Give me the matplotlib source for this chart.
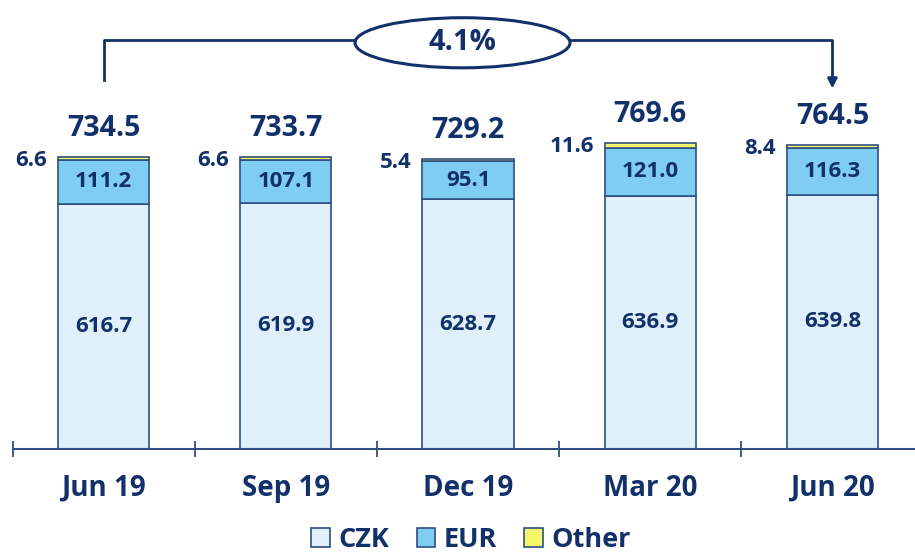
import matplotlib
matplotlib.use("Agg")
import matplotlib.pyplot as plt
from matplotlib.patches import Patch, Ellipse
import numpy as np

categories = ["Jun 19", "Sep 19", "Dec 19", "Mar 20", "Jun 20"]
czk = [616.7, 619.9, 628.7, 636.9, 639.8]
eur = [111.2, 107.1, 95.1, 121.0, 116.3]
other = [6.6, 6.6, 5.4, 11.6, 8.4]
totals = [734.5, 733.7, 729.2, 769.6, 764.5]
growth_label = "4.1%"

navy = "#12306a"
edge = "#2d4f80"
c_czk = "#dff0fb"
c_eur = "#7fcdf2"
c_oth = "#f7f56b"

plt.rcParams['font.family'] = ['Open Sans', 'DejaVu Sans']

fig = plt.figure(figsize=(9.15, 5.57), dpi=100)
ax = fig.add_axes([12.5/915, 108/557, 911/915, 449/557])

x = np.arange(len(categories))
w = 0.5
ax.bar(x, czk, w, color=c_czk, edgecolor=edge, linewidth=1.2)
ax.bar(x, eur, w, bottom=czk, color=c_eur, edgecolor=edge, linewidth=1.2)
bot2 = [a + b for a, b in zip(czk, eur)]
ax.bar(x, other, w, bottom=bot2, color=c_oth, edgecolor=edge, linewidth=1.2)

for i in range(len(x)):
    ax.text(x[i], czk[i] / 2, f"{czk[i]:.1f}", ha='center', va='center',
            fontsize=16, fontweight='bold', color=navy)
    ax.text(x[i], czk[i] + eur[i] / 2, f"{eur[i]:.1f}", ha='center', va='center',
            fontsize=16, fontweight='bold', color=navy)
    ax.text(x[i] - w / 2 - 0.06, totals[i] - 8, f"{other[i]:.1f}", ha='right', va='center',
            fontsize=16, fontweight='bold', color=navy)
    ax.text(x[i], totals[i] + 73, f"{totals[i]:.1f}", ha='center', va='center',
            fontsize=20.5, fontweight='bold', color=navy)

ax.set_xlim(-0.5, 4.5)
ax.set_ylim(0, 1129.6)
for s in ['left', 'right', 'top']:
    ax.spines[s].set_visible(False)
ax.spines['bottom'].set_color(edge)
ax.spines['bottom'].set_linewidth(1.5)
ax.set_yticks([])
ax.set_xticks(x)
ax.set_xticklabels(categories, fontsize=20, fontweight='bold', color=navy)
ax.tick_params(axis='x', which='major', length=0, pad=18)
ax.set_xticks(np.arange(-0.5, 5.0, 1.0), minor=True)
ax.tick_params(axis='x', which='minor', direction='inout', length=12, width=1.3, color=edge)

# growth annotation
y_line = 1029
ex, ey = 1.97, 1022
ew, eh = 1.18, 126
ax.plot([0, 0, ex - ew / 2], [928, y_line, y_line], color=navy, lw=2, clip_on=False)
ax.plot([ex + ew / 2, 4, 4], [y_line, y_line, 925], color=navy, lw=2, clip_on=False)
ax.annotate("", xy=(4, 900), xytext=(4, 935),
            arrowprops=dict(arrowstyle='-|>', color=navy, lw=2, mutation_scale=14))
ax.add_patch(Ellipse((ex, ey), ew, eh, facecolor='white', edgecolor=navy, lw=2.2, clip_on=False))
ax.text(ex, ey, growth_label, ha='center', va='center', fontsize=21, fontweight='bold', color=navy)

handles = [Patch(facecolor=c_czk, edgecolor=edge, lw=1.2, label='CZK'),
           Patch(facecolor=c_eur, edgecolor=edge, lw=1.2, label='EUR'),
           Patch(facecolor=c_oth, edgecolor=edge, lw=1.2, label='Other')]
leg = fig.legend(handles=handles, loc='center', bbox_to_anchor=(471/915, 1 - 540/557), ncol=3,
                 frameon=False, handlelength=0.7, handleheight=0.7, handletextpad=0.3,
                 columnspacing=1.0, borderpad=0.1, prop={'size': 19.5, 'weight': 'bold'})
for t in leg.get_texts():
    t.set_color(navy)

fig.savefig("out.png", dpi=100)
